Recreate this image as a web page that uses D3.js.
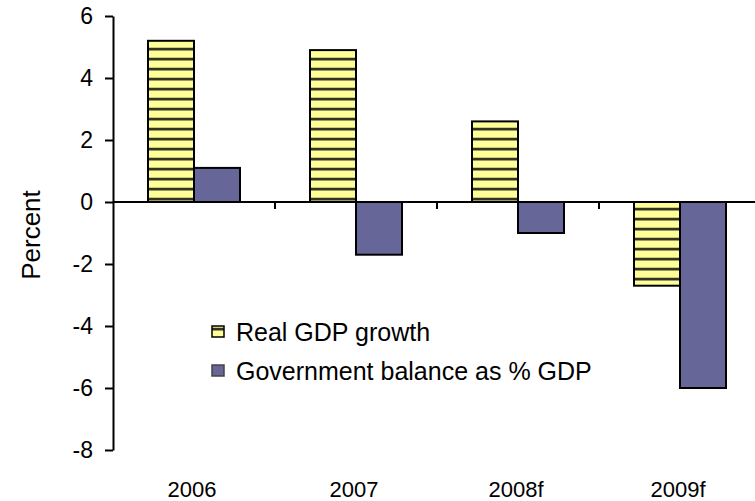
<!DOCTYPE html>
<html>
<head>
<meta charset="utf-8">
<script src="https://cdn.jsdelivr.net/npm/d3@7"></script>
<style>
  body { margin: 0; background: #fff; }
  text { font-family: "Liberation Sans", Arial, sans-serif; fill: #000; }
</style>
</head>
<body>
<div id="chart"></div>
<script>
// data
var years = ["2006", "2007", "2008f", "2009f"];
var gdpGrowth = [5.2, 4.9, 2.6, -2.7];
var govBalance = [1.1, -1.7, -1.0, -6.0];
var yTicks = [-8, -6, -4, -2, 0, 2, 4, 6];
var seriesNames = ["Real GDP growth", "Government balance as % GDP"];

var width = 755,
    height = 501;

var svg = d3.select("#chart").append("svg")
    .attr("width", width)
    .attr("height", height);

// striped fill for the GDP bars
var defs = svg.append("defs");
var pat = defs.append("pattern")
    .attr("id", "stripes")
    .attr("patternUnits", "userSpaceOnUse")
    .attr("width", 10)
    .attr("height", 10)
    .attr("y", 1);
pat.append("rect").attr("width", 10).attr("height", 10).attr("fill", "#ffff99");
pat.append("rect").attr("y", 6).attr("width", 10).attr("height", 1).attr("fill", "#cccc77");
pat.append("rect").attr("y", 7).attr("width", 10).attr("height", 2).attr("fill", "#333322");
pat.append("rect").attr("y", 9).attr("width", 10).attr("height", 1).attr("fill", "#999966");

var y = d3.scaleLinear()
    .domain([-8, 6])
    .range([450, 16]);

var x = d3.scaleBand()
    .domain(years)
    .range([113, 761])
    .padding(0);

var barW = 46;

// bars
var groups = svg.append("g").selectAll("g")
    .data(years)
    .enter().append("g");

groups.append("rect")
    .attr("x", function(d) { return x(d) + x.bandwidth() / 2 - barW; })
    .attr("y", function(d, i) { return y(Math.max(0, gdpGrowth[i])); })
    .attr("width", barW)
    .attr("height", function(d, i) { return Math.abs(y(gdpGrowth[i]) - y(0)); })
    .attr("fill", "url(#stripes)")
    .attr("stroke", "#000")
    .attr("stroke-width", 2);

groups.append("rect")
    .attr("x", function(d) { return x(d) + x.bandwidth() / 2; })
    .attr("y", function(d, i) { return y(Math.max(0, govBalance[i])); })
    .attr("width", barW)
    .attr("height", function(d, i) { return Math.abs(y(govBalance[i]) - y(0)); })
    .attr("fill", "#666699")
    .attr("stroke", "#000")
    .attr("stroke-width", 2);

// zero line with category ticks
svg.append("line")
    .attr("x1", x.range()[0]).attr("x2", x.range()[1])
    .attr("y1", y(0)).attr("y2", y(0))
    .attr("stroke", "#000").attr("stroke-width", 2);

svg.append("g").selectAll("line")
    .data(years.slice(1))
    .enter().append("line")
    .attr("x1", function(d) { return x(d); })
    .attr("x2", function(d) { return x(d); })
    .attr("y1", y(0))
    .attr("y2", y(0) + 7)
    .attr("stroke", "#000").attr("stroke-width", 2);

// y axis
var yAxis = svg.append("g")
    .attr("transform", "translate(113,0)")
    .call(d3.axisLeft(y)
        .tickValues(yTicks)
        .tickSize(8)
        .tickSizeOuter(0)
        .tickPadding(12)
        .tickFormat(function(d) { return String(d); }));
yAxis.select(".domain").attr("stroke", "#000").attr("stroke-width", 2);
yAxis.selectAll(".tick line").attr("stroke", "#000").attr("stroke-width", 2);
yAxis.selectAll(".tick text")
    .attr("font-size", 23)
    .attr("font-family", "'Liberation Sans', Arial, sans-serif")
    .attr("fill", "#000");

svg.append("text")
    .attr("transform", "translate(40," + 235 + ") rotate(-90)")
    .attr("text-anchor", "middle")
    .attr("font-size", 26)
    .text("Percent");

// category labels
svg.append("g").selectAll("text")
    .data(years)
    .enter().append("text")
    .attr("x", function(d) { return x(d) + x.bandwidth() / 2 - 2; })
    .attr("y", 497)
    .attr("text-anchor", "middle")
    .attr("font-size", 22)
    .text(function(d) { return d; });

// legend
var legend = svg.append("g");
var legendFill = ["url(#stripes)", "#666699"];
legend.selectAll("rect")
    .data(seriesNames)
    .enter().append("rect")
    .attr("x", 212)
    .attr("y", function(d, i) { return 326 + i * 39; })
    .attr("width", 12)
    .attr("height", 11)
    .attr("fill", function(d, i) { return legendFill[i]; })
    .attr("stroke", function(d, i) { return i === 0 ? "#000" : "#444"; })
    .attr("stroke-width", 1.5);

legend.selectAll("text")
    .data(seriesNames)
    .enter().append("text")
    .attr("x", 236)
    .attr("y", function(d, i) { return 341 + i * 39; })
    .attr("font-size", 25)
    .text(function(d) { return d; });
</script>
</body>
</html>
